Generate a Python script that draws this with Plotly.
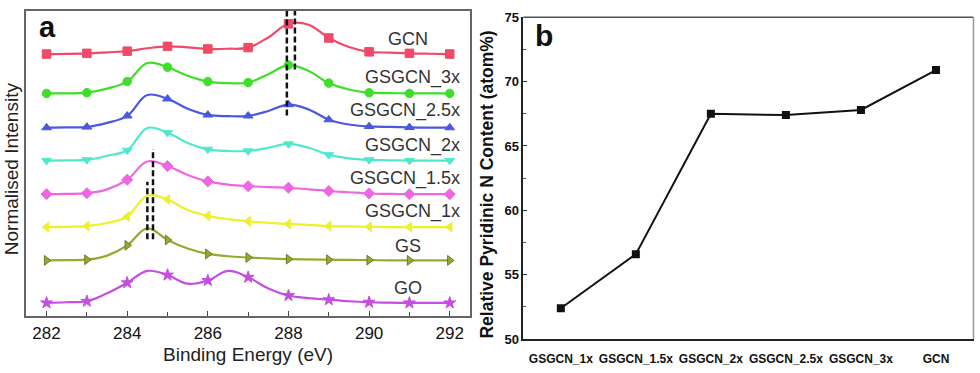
import plotly.graph_objects as go

# ---------------- data: panel a (XPS C1s spectra) ----------------
energy = [282, 282.5, 283, 283.5, 284, 284.5, 285, 285.5, 286, 286.5, 287,
          287.5, 288, 288.5, 289, 289.5, 290, 290.5, 291, 291.5, 292]

int_gcn = [0, 0.2, 0.7, 1.8, 3, 6, 8, 7, 5.3, 5.5, 6.7, 17.3, 31.5, 30.5, 16.7, 7.3, 2.3, 1.5, 0.7, 0.3, 0]
int_gsgcn_3x = [0, 0, 0.7, 5, 12.3, 31.7, 27.3, 18.3, 12.3, 10.7, 11.3, 20, 29.5, 23.3, 10.7, 4, 0.7, 0.3, 0, 0, 0]
int_gsgcn_25x = [0, 0.2, 0.7, 5, 12.3, 34, 30, 19.7, 13.3, 12, 12.3, 17.3, 24, 19, 8.3, 3.3, 1.3, 0.7, 0.3, 0, 0]
int_gsgcn_2x = [0, 0.2, 0.7, 5, 10.7, 34, 29, 18.3, 11.7, 10, 10, 13.3, 17.3, 13.3, 6, 2.3, 0.7, 0.3, 0, 0, 0]
int_gsgcn_15x = [0, 0.3, 1, 5, 15, 34, 29.3, 20, 13.3, 10, 8.3, 7.3, 6.7, 5, 3.3, 2, 0.7, 0.3, 0, 0, 0]
int_gsgcn_1x = [0, 0.3, 1, 4.3, 11, 32.7, 28.7, 17.7, 11.7, 8.3, 6, 4.3, 3.3, 2.3, 1, 0.7, 0.3, 0, 0, 0, 0]
int_gs = [0, 0.3, 0.7, 5, 15.7, 33.3, 21.3, 12.3, 6.7, 4.3, 3, 2, 1.3, 1, 0.7, 0.5, 0.3, 0, 0, 0, 0]
int_go = [0, 0.7, 1.7, 10, 21, 33.3, 29, 20, 23.3, 33.3, 26.7, 15, 7.7, 5, 3.3, 1.7, 0.7, 0.3, 0, 0, 0]

series_names = ["GCN", "GSGCN_3x", "GSGCN_2.5x", "GSGCN_2x", "GSGCN_1.5x", "GSGCN_1x", "GS", "GO"]
series_values = [int_gcn, int_gsgcn_3x, int_gsgcn_25x, int_gsgcn_2x, int_gsgcn_15x, int_gsgcn_1x, int_gs, int_go]
stack_offsets = [273, 232, 196.3, 162, 127, 92.7, 58, 13.7]

# peak-position guide lines (eV) and their vertical extents (stacked intensity units)
guide_energy = [287.96, 288.16, 284.64, 284.5]
guide_y0 = [209, 257, 80, 80]
guide_y1 = [318, 318, 174, 140]

xtick_vals_a = [282, 284, 286, 288, 290, 292]

# ---------------- data: panel b ----------------
samples = ["GSGCN_1x", "GSGCN_1.5x", "GSGCN_2x", "GSGCN_2.5x", "GSGCN_3x", "GCN"]
pyridinic_n = [52.4, 56.6, 67.5, 67.4, 67.8, 70.9]
ytick_vals_b = [50, 55, 60, 65, 70, 75]

# ---------------- styles ----------------
colors = ["#f04a68", "#3ede2a", "#4a58e0", "#4fe8cf", "#ef66e2", "#eef02c", "#97aa30", "#c54de0"]
marker_line = ["#f04a68", "#3ede2a", "#4a58e0", "#4fe8cf", "#ef66e2", "#eef02c", "#6a7a28", "#c54de0"]
symbols = ["square", "circle", "triangle-up", "triangle-down", "diamond", "triangle-left", "triangle-right", "star"]

W, H = 980, 373
def px(x):
    return x / W
def py(y):
    return 1 - y / H

FONT = "Liberation Sans, Arial, sans-serif"

fig = go.Figure()

for name, vals, off, c, ml, sym in zip(series_names, series_values, stack_offsets, colors, marker_line, symbols):
    yv = [v + off for v in vals]
    fig.add_trace(go.Scatter(x=energy, y=yv, mode="lines", line=dict(color=c, width=2.2, shape="spline", smoothing=1.1),
                             xaxis="x", yaxis="y", hoverinfo="skip", showlegend=False))
    fig.add_trace(go.Scatter(x=energy[::2], y=yv[::2], mode="markers", name=name,
                             marker=dict(symbol=sym, color=c, size=8.5 if sym != "star" else 9,
                                         line=dict(color=ml, width=1)),
                             xaxis="x", yaxis="y", showlegend=False))

fig.add_trace(go.Scatter(x=samples, y=pyridinic_n, mode="lines+markers",
                         line=dict(color="#111111", width=2),
                         marker=dict(symbol="square", color="#111111", size=8),
                         xaxis="x2", yaxis="y2", showlegend=False))

shapes = []
for ex, y0, y1 in zip(guide_energy, guide_y0, guide_y1):
    shapes.append(dict(type="line", xref="x", yref="y", x0=ex, x1=ex, y0=y0, y1=y1,
                       line=dict(color="#111111", width=2.5, dash="6px,3px")))
# panel b top and right frame lines (lighter)
shapes.append(dict(type="line", xref="x2 domain", yref="y2 domain", x0=0, x1=1, y0=1, y1=1,
                   line=dict(color="#4a5656", width=1.3)))
shapes.append(dict(type="line", xref="x2 domain", yref="y2 domain", x0=1, x1=1, y0=0, y1=1,
                   line=dict(color="#8a9c9c", width=1.5)))

annotations = []
label_pos = {
    "GCN": (408, 33, "center"),
    "GSGCN_3x": (462, 73, "right"),
    "GSGCN_2.5x": (462, 108, "right"),
    "GSGCN_2x": (462, 144, "right"),
    "GSGCN_1.5x": (462, 179, "right"),
    "GSGCN_1x": (462, 213, "right"),
    "GS": (408, 249, "center"),
    "GO": (408, 293, "center"),
}
for name in series_names:
    x, y, anc = label_pos[name]
    annotations.append(dict(text=name, x=px(x), y=py(y), xref="paper", yref="paper",
                            xanchor=anc, yanchor="middle", showarrow=False,
                            font=dict(family=FONT, size=18, color="#333333")))

annotations += [
    dict(text="<b>a</b>", x=px(47), y=py(21), xref="paper", yref="paper", xanchor="center", yanchor="middle",
         showarrow=False, font=dict(family=FONT, size=29, color="#111111")),
    dict(text="<b>b</b>", x=px(544), y=py(30), xref="paper", yref="paper", xanchor="center", yanchor="middle",
         showarrow=False, font=dict(family=FONT, size=30, color="#111111")),
    dict(text="Normalised Intensity", x=px(11), y=py(169), xref="paper", yref="paper", xanchor="center",
         yanchor="middle", textangle=-90, showarrow=False, font=dict(family=FONT, size=19, color="#222222")),
    dict(text="Binding Energy (eV)", x=px(248), y=py(362), xref="paper", yref="paper", xanchor="center",
         yanchor="middle", showarrow=False, font=dict(family=FONT, size=19, color="#222222")),
    dict(text="<b>Relative Pyridinic N Content (atom%)</b>", x=px(487), y=py(185), xref="paper", yref="paper",
         xanchor="center", yanchor="middle", textangle=-90, showarrow=False,
         font=dict(family=FONT, size=17.5, color="#111111")),
]

fig.update_layout(
    width=W, height=H,
    margin=dict(l=0, r=0, t=0, b=0),
    paper_bgcolor="white", plot_bgcolor="white",
    showlegend=False,
    xaxis=dict(domain=[px(26), px(469.5)], range=[281.49, 292.49], anchor="y",
               tickmode="array", tickvals=xtick_vals_a, ticks="inside", ticklen=5, tickwidth=1.2,
               tickcolor="#444444", ticklabelstandoff=1,
               minor=dict(dtick=1, tick0=282, ticks="inside", ticklen=4, tickcolor="#444444"),
               showline=True, mirror=True, linecolor="#666666", linewidth=1.5,
               showgrid=False, zeroline=False,
               tickfont=dict(family=FONT, size=17, color="#111111")),
    yaxis=dict(domain=[py(322), py(4)], range=[0, 318], anchor="x",
               showticklabels=False, ticks="", showline=True, mirror=True, linecolor="#666666", linewidth=1.5,
               showgrid=False, zeroline=False),
    xaxis2=dict(domain=[px(523.3), px(973.5)], range=[-0.5, 5.5], anchor="y2", type="category",
                showline=True, linecolor="#222222", linewidth=1.5, mirror=False,
                ticks="", showgrid=False, zeroline=False, ticklabelstandoff=8,
                tickfont=dict(family=FONT, size=12, color="#111111", weight="bold")),
    yaxis2=dict(domain=[py(346), py(10.7)], range=[50, 75], anchor="x2",
                tickmode="array", tickvals=ytick_vals_b, ticks="inside", ticklen=4, tickcolor="#333333",
                minor=dict(dtick=2.5, tick0=50, ticks="inside", ticklen=3, tickcolor="#555555"),
                showline=True, linecolor="#222222", linewidth=1.5, mirror=False,
                showgrid=False, zeroline=False,
                tickfont=dict(family=FONT, size=13, color="#111111", weight="bold")),
    shapes=shapes,
    annotations=annotations,
)

fig.write_html("out.html", config={"displayModeBar": False},
               post_script="document.body.style.margin='0';document.body.style.overflow='hidden';")
